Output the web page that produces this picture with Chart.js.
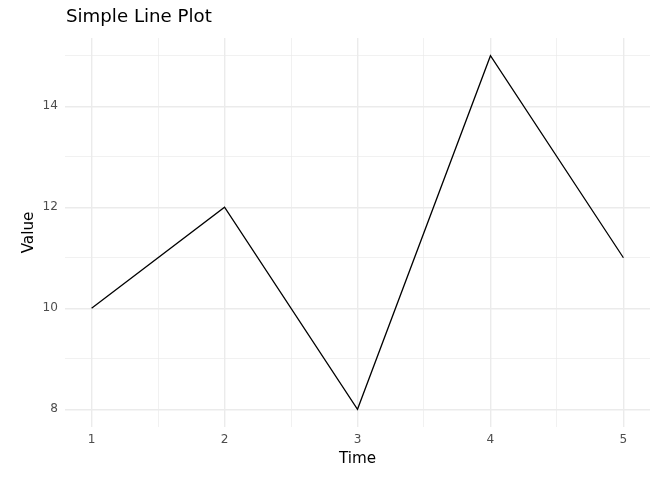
<!DOCTYPE html>
<html>
<head>
<meta charset="utf-8">
<script src="https://cdn.jsdelivr.net/npm/chart.js@4"></script>
<style>
  html, body { margin: 0; padding: 0; background: #ffffff; }
  #wrap { width: 665px; height: 493px; }
</style>
</head>
<body>
<div id="wrap"><canvas id="c" width="665" height="493"></canvas></div>
<script>
const chartTitle = "Simple Line Plot";
const xLabel = "Time";
const yLabel = "Value";
const timeValues = [1, 2, 3, 4, 5];
const seriesValues = [10, 12, 8, 15, 11];
const xTickValues = [1, 1.5, 2, 2.5, 3, 3.5, 4, 4.5, 5];
const yTickValues = [8, 9, 10, 11, 12, 13, 14, 15];
const xMajor = [1, 2, 3, 4, 5];
const yMajor = [8, 10, 12, 14];

const FONT = "'DejaVu Sans', sans-serif";

const titlePlugin = {
  id: 'ggTitle',
  afterDraw(chart) {
    const ctx = chart.ctx;
    ctx.save();
    ctx.font = "18.2px " + FONT;
    ctx.fillStyle = '#000000';
    ctx.textAlign = 'left';
    ctx.textBaseline = 'alphabetic';
    ctx.fillText(chartTitle, chart.chartArea.left + 1, 22);
    ctx.restore();
  }
};

const gridColor = (ctx) => '#ebebeb';

new Chart(document.getElementById('c'), {
  type: 'line',
  data: {
    datasets: [{
      data: timeValues.map((t, i) => ({ x: t, y: seriesValues[i] })),
      borderColor: '#000000',
      borderWidth: 1.3,
      pointRadius: 0,
      fill: false,
      tension: 0
    }]
  },
  options: {
    responsive: false,
    animation: false,
    devicePixelRatio: 1,
    layout: { padding: { top: 38, right: 15, bottom: 0, left: 0 } },
    plugins: {
      legend: { display: false },
      tooltip: { enabled: false },
      title: { display: false }
    },
    scales: {
      x: {
        type: 'linear',
        min: 0.8,
        max: 5.2,
        afterBuildTicks: (s) => { s.ticks = xTickValues.map(v => ({ value: v })); },
        afterFit: (s) => { s.height = 66; },
        border: { display: false },
        grid: {
          drawTicks: false,
          color: gridColor,
          lineWidth: (c) => (c.tick && xMajor.includes(c.tick.value)) ? 1.4 : 0.7
        },
        ticks: {
          padding: 6,
          color: '#4d4d4d',
          font: { family: FONT, size: 12.1 },
          maxRotation: 0,
          autoSkip: false,
          callback: (v) => xMajor.includes(v) ? String(v) : ''
        },
        title: {
          display: true,
          text: xLabel,
          color: '#000000',
          font: { family: FONT, size: 15.2 },
          padding: { top: 0, bottom: 25 }
        }
      },
      y: {
        type: 'linear',
        min: 7.65,
        max: 15.35,
        afterBuildTicks: (s) => { s.ticks = yTickValues.map(v => ({ value: v })); },
        afterFit: (s) => { s.width = 65; },
        border: { display: false },
        grid: {
          drawTicks: false,
          color: gridColor,
          lineWidth: (c) => (c.tick && yMajor.includes(c.tick.value)) ? 1.4 : 0.7
        },
        ticks: {
          padding: 7,
          color: '#4d4d4d',
          font: { family: FONT, size: 12.1 },
          autoSkip: false,
          callback: (v) => yMajor.includes(v) ? String(v) : ''
        },
        title: {
          display: true,
          text: yLabel,
          color: '#000000',
          font: { family: FONT, size: 15.2 },
          padding: { top: 19.5, bottom: 0 }
        }
      }
    }
  },
  plugins: [titlePlugin]
});
</script>
</body>
</html>
